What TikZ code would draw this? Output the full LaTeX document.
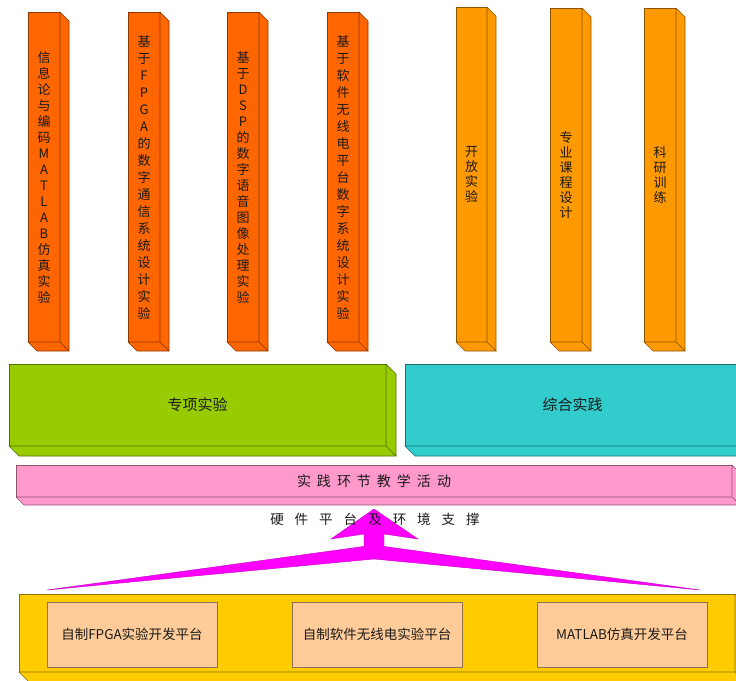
\documentclass[tikz,border=0pt]{standalone}
\usepackage{fontspec}
\setmainfont{Noto Sans CJK SC}
\definecolor{dorange}{HTML}{FF6600}
\definecolor{lorange}{HTML}{FF9900}
\definecolor{lgreen}{HTML}{99CC00}
\definecolor{lcyan}{HTML}{33CCCC}
\definecolor{lpink}{HTML}{FF99CC}
\definecolor{lyellow}{HTML}{FFCC00}
\definecolor{lpeach}{HTML}{FFCC99}
\definecolor{lmag}{HTML}{FF00FF}
\definecolor{txt}{HTML}{1A1A1A}
\newcommand\cubefaces[3]{% node name, depth, colour
  \filldraw[fill=#3, draw=#3!55!black, line width=0.6pt, line join=round]
    (#1.north east) -- ([shift={(#2,#2)}]#1.north east) -- ([shift={(#2,#2)}]#1.south east) -- (#1.south east) -- cycle;
  \filldraw[fill=#3, draw=#3!55!black, line width=0.6pt, line join=round]
    (#1.south west) -- (#1.south east) -- ([shift={(#2,#2)}]#1.south east) -- ([shift={(#2,#2)}]#1.south west) -- cycle;
}
\begin{document}
\begin{tikzpicture}[x=1pt,y=-1pt,
  front/.style={draw=#1!55!black, fill=#1, line width=0.6pt, inner sep=0pt, outer sep=0pt, text=txt, align=center},
  vtext/.style={font=\fontsize{13}{16}\selectfont},
  vtextb/.style={font=\fontsize{13}{17}\selectfont},
  vtextc/.style={font=\fontsize{13}{15}\selectfont},
  plat/.style={draw=lpeach!55!black, fill=lpeach, line width=0.6pt, minimum width=170pt, minimum height=65pt, inner sep=0pt, text=txt, font=\fontsize{13.5}{16}\selectfont}
]
\useasboundingbox (0,0) rectangle (736,680);
\clip (0,0) rectangle (736,680);

% dark orange bars
\node[front=dorange, vtext, minimum width=32pt, minimum height=330pt] (b1) at (44,177)
  {信\\息\\论\\与\\编\\码\\M\\A\\T\\L\\A\\B\\仿\\真\\实\\验};
\cubefaces{b1}{9}{dorange}
\node[front=dorange, vtextb, minimum width=32pt, minimum height=330pt] (b2) at (144,177)
  {基\\于\\F\\P\\G\\A\\的\\数\\字\\通\\信\\系\\统\\设\\计\\实\\验};
\cubefaces{b2}{9}{dorange}
\node[front=dorange, vtext, minimum width=32pt, minimum height=330pt] (b3) at (243,177)
  {基\\于\\D\\S\\P\\的\\数\\字\\语\\音\\图\\像\\处\\理\\实\\验};
\cubefaces{b3}{9}{dorange}
\node[front=dorange, vtextb, minimum width=32pt, minimum height=330pt] (b4) at (343,177)
  {基\\于\\软\\件\\无\\线\\电\\平\\台\\数\\字\\系\\统\\设\\计\\实\\验};
\cubefaces{b4}{9}{dorange}

% light orange bars
\node[front=lorange, vtextc, minimum width=31pt, minimum height=335pt] (l1) at (471.5,174.5)
  {开\\放\\实\\验};
\cubefaces{l1}{9}{lorange}
\node[front=lorange, vtextc, minimum width=32pt, minimum height=334pt] (l2) at (566,175)
  {专\\业\\课\\程\\设\\计};
\cubefaces{l2}{9}{lorange}
\node[front=lorange, vtextc, minimum width=32pt, minimum height=334pt] (l3) at (660,175)
  {科\\研\\训\\练};
\cubefaces{l3}{9}{lorange}

% middle blocks
\node[front=lgreen, font=\fontsize{15}{18}\selectfont, minimum width=377pt, minimum height=82pt] (zx) at (197.5,405) {专项实验};
\cubefaces{zx}{10}{lgreen}
\node[front=lcyan, font=\fontsize{15}{18}\selectfont, minimum width=335pt, minimum height=82pt] (zh) at (572.5,405) {综合实践};
\cubefaces{zh}{10}{lcyan}

% teaching activities layer
\node[front=lpink, font=\fontsize{14}{16}\selectfont, minimum width=716pt, minimum height=32pt] (sj) at (374,481)
  {实\hspace{6pt}践\hspace{6pt}环\hspace{6pt}节\hspace{6pt}教\hspace{6pt}学\hspace{6pt}活\hspace{6pt}动};
\cubefaces{sj}{8}{lpink}

% arrow
\coordinate (aL) at (47,590);
\coordinate (aR) at (700,590);
\coordinate (aTip) at (374,509);
\filldraw[fill=lmag, draw=lmag!75!black, line width=0.4pt, line join=miter]
  (aL) -- (364,546.4) -- (364,534) -- (331,539) -- (aTip) -- (418,539) -- (384,534)
  -- (384,546.4) -- (aR) -- (374,559) -- cycle;

\node[text=txt, font=\fontsize{13.5}{16}\selectfont] (hw) at (375,519)
  {硬\hspace{11pt}件\hspace{11pt}平\hspace{11pt}台\hspace{11pt}及\hspace{11pt}环\hspace{11pt}境\hspace{11pt}支\hspace{11pt}撑};

% platform layer
\node[front=lyellow, minimum width=716pt, minimum height=78pt] (pf) at (377,633) {};
\cubefaces{pf}{10}{lyellow}
\node[plat] (p1) at (132,634.5) {自制FPGA实验开发平台};
\node[plat] (p2) at (377,634.5) {自制软件无线电实验平台};
\node[plat] (p3) at (622,634.5) {MATLAB仿真开发平台};
\end{tikzpicture}
\end{document}
